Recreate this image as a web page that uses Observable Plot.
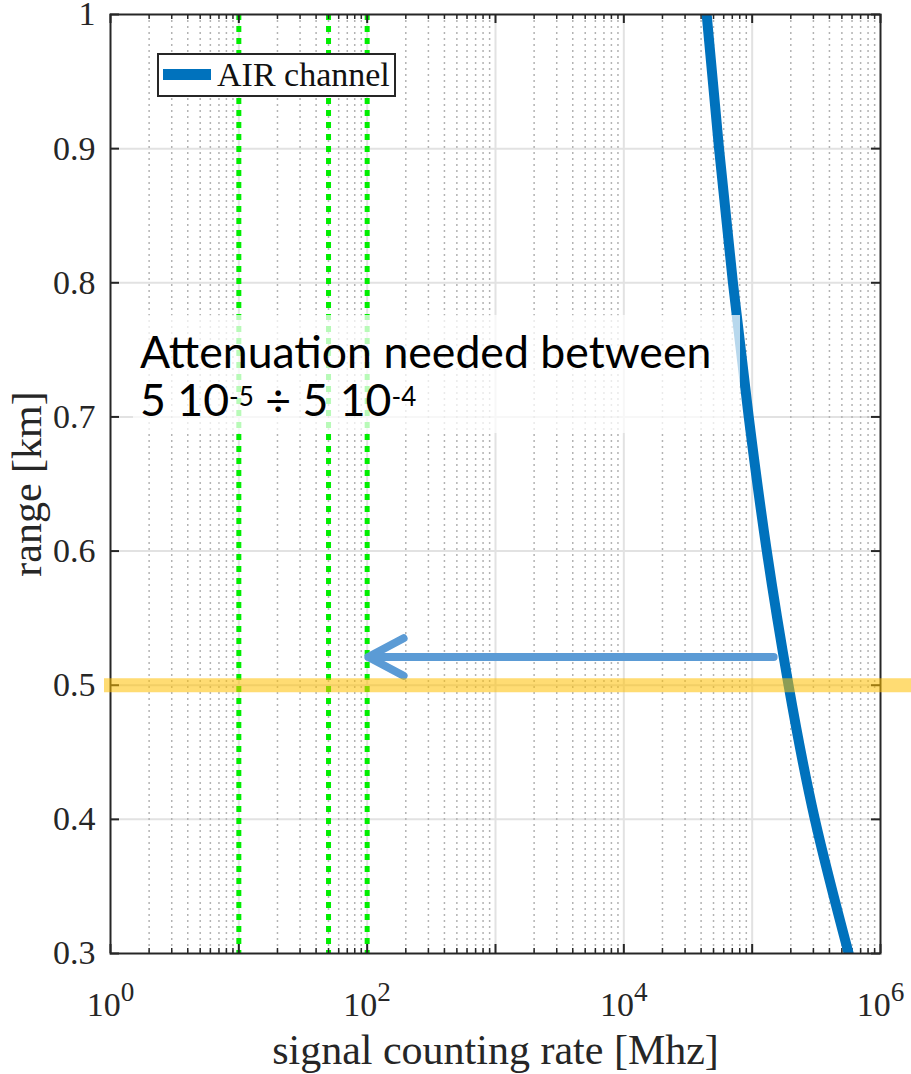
<!DOCTYPE html>
<html><head><meta charset="utf-8">
<script src="https://cdn.jsdelivr.net/npm/d3@7"></script>
<script src="https://cdn.jsdelivr.net/npm/@observablehq/plot@0.6"></script>
<style>
body{margin:0;background:#fff;}
#wrap{position:relative;width:911px;height:1074px;overflow:hidden;}
svg text, svg tspan{font-family:"Liberation Serif" !important;font-variant:normal !important;}
#legend{position:absolute;left:157px;top:53px;width:235px;height:40px;border:2px solid #262626;background:#fff;}
#legend .sw{position:absolute;left:4px;top:14px;width:48px;height:11px;background:#0072BD;}
#legend .lb{position:absolute;left:58px;top:3px;font-family:"Liberation Serif";font-size:34px;line-height:1;color:#111;white-space:nowrap;}
#note{position:absolute;left:133px;top:315px;width:607px;height:118px;padding:12px 0 0 7px;box-sizing:border-box;background:rgba(255,255,255,0.72);font-family:Lato;font-size:44.6px;line-height:48px;color:#000;white-space:nowrap;}
#note sup{font-size:26px;vertical-align:10px;line-height:0;}
</style></head><body><div id="wrap"></div>
<script>
// ---- data ----
const seriesName = "AIR channel";
const rangeKm = [1.0, 0.9, 0.8, 0.7, 0.6, 0.5, 0.4, 0.3];
const rateMHz = [44200, 55200, 70800, 94000, 130000, 192000, 308000, 565000];
const greenRates = [10, 50, 100];
const bandRange = [0.5];
const arrowStartRate = [147000];
const arrowEndRate = [102];
const arrowRange = [0.521];
const yTicks = [0.3, 0.4, 0.5, 0.6, 0.7, 0.8, 0.9, 1.0];
const xMajor = [1, 10, 100, 1000, 10000, 100000, 1000000];
const xLabeled = [1, 100, 10000, 1000000];
const xLabelText = ["10^0", "10^2", "10^4", "10^6"];
const xTitle = "signal counting rate [Mhz]";
const yTitle = "range [km]";
const noteLine1 = "Attenuation needed between";
const noteLine2 = ["5 10", "-5", " ÷ 5 10", "-4"];

const xMinor = [];
for (const d of xMajor.slice(0, -1)) for (let m = 2; m <= 9; m++) xMinor.push(m * d);

const curve = rangeKm.map((r, i) => ({range: r, rate: rateMHz[i]}));
const arrows = arrowRange.map((r, i) => ({x1: arrowStartRate[i], x2: arrowEndRate[i], y: r}));

const W = 911, H = 1074, mL = 110, mR = 31, mT = 14, mB = 121;
const fw = W - mL - mR, fh = H - mT - mB;
const ink = "#262626";
const serif = "Liberation Serif";

const chart = Plot.plot({
  width: W, height: H,
  marginLeft: mL, marginRight: mR, marginTop: mT, marginBottom: mB,
  style: {fontFamily: serif, color: ink, background: "#fff", overflow: "visible"},
  x: {type: "log", domain: [1, 1e6]},
  y: {domain: [0.3, 1]},
  marks: [
    Plot.ruleY(yTicks.slice(1, -1), {stroke: "#e2e2e2", strokeWidth: 2}),
    Plot.ruleX(xMinor, {stroke: "#b3b3b3", strokeWidth: 1.5, strokeDasharray: "2,4"}),
    Plot.ruleX(xMajor.slice(1, -1), {stroke: "#e2e2e2", strokeWidth: 2}),
    Plot.ruleX(greenRates, {stroke: "#00ee00", strokeWidth: 5, strokeDasharray: "6,6"}),
    // inside ticks
    Plot.ruleX(xMajor, {stroke: ink, strokeWidth: 2, insetTop: fh - 9}),
    Plot.ruleX(xMajor, {stroke: ink, strokeWidth: 2, insetBottom: fh - 9}),
    Plot.ruleX(xMinor, {stroke: ink, strokeWidth: 1.5, insetTop: fh - 5}),
    Plot.ruleX(xMinor, {stroke: ink, strokeWidth: 1.5, insetBottom: fh - 5}),
    Plot.ruleY(yTicks, {stroke: ink, strokeWidth: 2, insetRight: fw - 9}),
    Plot.ruleY(yTicks, {stroke: ink, strokeWidth: 2, insetLeft: fw - 9}),
    Plot.line(curve, {x: "rate", y: "range", stroke: "#0072BD", strokeWidth: 10, clip: true, curve: "natural"}),
    Plot.arrow(arrows, {x1: "x1", x2: "x2", y1: "y", y2: "y", stroke: "#5B9BD5", strokeWidth: 8, headLength: 7.5, headAngle: 56}),
    Plot.frame({stroke: ink, strokeWidth: 2}),
    Plot.ruleY(bandRange, {stroke: "#FFC000", strokeOpacity: 0.55, strokeWidth: 14, insetLeft: -6, insetRight: -mR}),
    Plot.axisX(xLabeled, {tickSize: 0, tickPadding: 38, fontSize: 34, fontFamily: serif, label: null,
      tickFormat: d => xLabelText[xLabeled.indexOf(d)]}),
    Plot.axisY(yTicks, {tickSize: 0, tickPadding: 15, fontSize: 34, fontFamily: serif, label: null,
      tickFormat: d => d === 1 ? "1" : d.toFixed(1)}),
    Plot.text([xTitle], {frameAnchor: "bottom", dy: 97, fontSize: 42, fontFamily: serif, lineAnchor: "middle", textAnchor: "middle", text: d => d}),
    Plot.text([yTitle], {frameAnchor: "left", dx: -83, rotate: -90, fontSize: 42, fontFamily: serif, lineAnchor: "middle", textAnchor: "middle", text: d => d})
  ]
});

const wrap = document.getElementById("wrap");
wrap.appendChild(chart);

// superscripts on x tick labels
chart.querySelectorAll('g[aria-label="x-axis tick label"] text').forEach(function(el) {
  const s = el.textContent; const [b, e] = s.split("^");
  const t = d3.select(el); t.text("");
  t.append("tspan").text(b);
  t.append("tspan").attr("dy", "-0.55em").attr("font-size", "0.8em").text(e);
});

const note = document.createElement("div");
note.id = "note";
note.innerHTML = noteLine1 + "<br>" + noteLine2[0] + "<sup>" + noteLine2[1] + "</sup>" + noteLine2[2] + "<sup>" + noteLine2[3] + "</sup>";
wrap.appendChild(note);

const legend = document.createElement("div");
legend.id = "legend";
legend.innerHTML = '<div class="sw"></div><div class="lb"></div>';
legend.querySelector(".lb").textContent = seriesName;
wrap.appendChild(legend);
</script>
</body></html>
